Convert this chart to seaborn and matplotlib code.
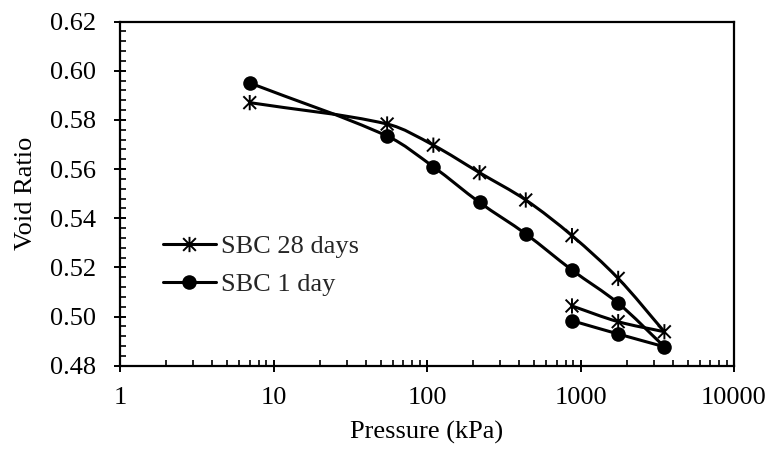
import numpy as np
import pandas as pd
import seaborn as sns
import matplotlib
matplotlib.use("Agg")
import matplotlib.pyplot as plt
from matplotlib.path import Path
from matplotlib.patches import PathPatch
from matplotlib.lines import Line2D
from matplotlib.ticker import FixedLocator, NullFormatter, LogLocator

# Oedometer loading / unloading sequence (kPa)
pressure = [7, 55, 110, 220, 440, 880, 1760, 3520, 1760, 880]
void_28d = [0.587, 0.5783, 0.5697, 0.5585, 0.5474, 0.5329, 0.5155, 0.4938, 0.4979, 0.5043]
void_1d = [0.595, 0.5734, 0.5609, 0.5464, 0.5336, 0.5189, 0.5054, 0.4877, 0.4929, 0.4983]
series_names = ["SBC 28 days", "SBC 1 day"]

y_ticks = [0.48, 0.50, 0.52, 0.54, 0.56, 0.58, 0.60, 0.62]
x_ticks = [1, 10, 100, 1000, 10000]

sns.set_theme(style="white")
plt.rcParams["font.family"] = ["Liberation Serif", "DejaVu Serif"]

FS = 19
LW = 2.2

df = pd.concat([
    pd.DataFrame({"Pressure": pressure, "Void": void_28d, "step": range(len(pressure)),
                  "Series": series_names[0]}),
    pd.DataFrame({"Pressure": pressure, "Void": void_1d, "step": range(len(pressure)),
                  "Series": series_names[1]}),
], ignore_index=True)

fig = plt.figure(figsize=(7.7, 4.53), dpi=100)
ax = fig.add_axes([120 / 770, 1 - 365.7 / 453, 614 / 770, 344.2 / 453])

ax.set_xscale("log")
ax.set_xlim(1, 10000)
ax.set_ylim(0.48, 0.62)

# asterisk marker: an X crossed by a vertical bar
star = Path(
    [(-0.5, -0.5), (0.5, 0.5), (-0.5, 0.5), (0.5, -0.5), (0, -0.6), (0, 0.6)],
    [Path.MOVETO, Path.LINETO, Path.MOVETO, Path.LINETO, Path.MOVETO, Path.LINETO],
)
markers = {series_names[0]: star, series_names[1]: "o"}
msizes = {series_names[0]: 11.0, series_names[1]: 10.5}


def smooth_path(xs, ys):
    """Smooth Bezier through the points, tangents scaled by segment length."""
    pts = ax.transData.transform(np.column_stack([xs, ys]))
    n = len(pts)
    tangents = []
    for i in range(n):
        a = pts[i - 1] if i > 0 else pts[i]
        b = pts[i + 1] if i + 1 < n else pts[i]
        d = b - a
        norm = np.hypot(*d)
        tangents.append(d / norm if norm > 0 else np.zeros(2))
    verts = [pts[0]]
    codes = [Path.MOVETO]
    for i in range(n - 1):
        p1, p2 = pts[i], pts[i + 1]
        seg = np.hypot(*(p2 - p1))
        c1 = p1 + tangents[i] * seg / 3.0
        c2 = p2 - tangents[i + 1] * seg / 3.0
        verts += [c1, c2, p2]
        codes += [Path.CURVE4] * 3
    verts = ax.transAxes.inverted().transform(np.array(verts))
    return Path(verts, codes)


for name in series_names:
    sub = df[df["Series"] == name].sort_values("step")
    p = sub["Pressure"].to_numpy()
    v = sub["Void"].to_numpy()
    turn = int(np.argmax(p))
    # loading branch and unloading branch meet at the peak pressure
    for sl in (slice(0, turn + 1), slice(turn, len(p))):
        patch = PathPatch(smooth_path(p[sl], v[sl]), transform=ax.transAxes,
                          facecolor="none", edgecolor="black", linewidth=LW,
                          capstyle="round", joinstyle="round", zorder=2)
        ax.add_patch(patch)
    if markers[name] == "o":
        sns.scatterplot(data=sub, x="Pressure", y="Void", ax=ax, marker="o",
                        s=msizes[name] ** 2, color="black", edgecolor="black",
                        linewidth=0, zorder=3, legend=False)
    else:
        sns.scatterplot(data=sub, x="Pressure", y="Void", ax=ax, marker=markers[name],
                        s=msizes[name] ** 2, facecolor="none", edgecolor="black",
                        color="black", linewidth=1.4, zorder=3, legend=False)

# ticks
ax.yaxis.set_major_locator(FixedLocator(y_ticks))
ax.yaxis.set_minor_locator(FixedLocator(np.arange(0.48, 0.6201, 0.004)))
ax.set_yticklabels([f"{v:.2f}" for v in y_ticks])
ax.xaxis.set_major_locator(FixedLocator(x_ticks))
ax.xaxis.set_minor_locator(LogLocator(base=10, subs=np.arange(2, 10)))
ax.xaxis.set_minor_formatter(NullFormatter())
ax.set_xticklabels([str(v) for v in x_ticks])

ax.tick_params(axis="both", which="major", direction="inout", length=9, width=1.4,
               colors="black", labelsize=FS, pad=11, left=True, bottom=True)
ax.tick_params(axis="y", which="major", pad=13)
ax.tick_params(axis="both", which="minor", direction="in", length=4.5, width=1.2,
               colors="black", left=True, bottom=True)

for sp in ax.spines.values():
    sp.set_visible(True)
    sp.set_color("black")
    sp.set_linewidth(1.6)

ax.set_xlabel("Pressure (kPa)", fontsize=FS, color="black")
ax.set_ylabel("Void Ratio", fontsize=FS, color="black")
ax.xaxis.set_label_coords(0.5, -0.16)
ax.yaxis.set_label_coords(-0.135, 0.5)
ax.grid(False)

handles = [
    Line2D([], [], color="black", linewidth=LW, marker=star, markersize=11.0,
           markerfacecolor="none", markeredgecolor="black", markeredgewidth=1.4),
    Line2D([], [], color="black", linewidth=LW, marker="o", markersize=10.5,
           markerfacecolor="black", markeredgewidth=0),
]
fig.legend(handles, series_names, loc="upper left",
           bbox_to_anchor=(163 / 770, 1 - 235 / 453), frameon=False, fontsize=FS,
           handlelength=2.0, handletextpad=0.2, labelspacing=0.55, borderpad=0,
           borderaxespad=0)

fig.savefig("out.png", dpi=100, facecolor="white")
